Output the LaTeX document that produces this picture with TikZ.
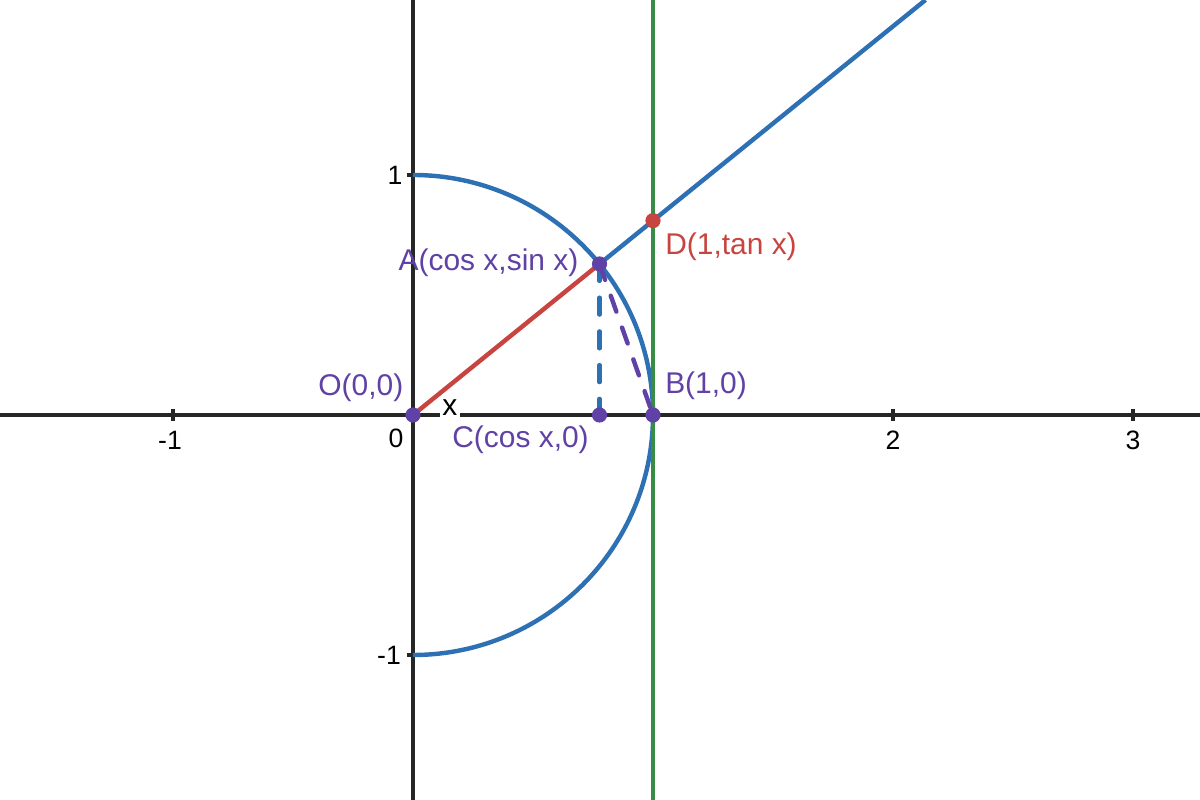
\documentclass[tikz,border=0pt]{standalone}
\usepackage{fontspec}
\setmainfont{Liberation Sans}
\usetikzlibrary{calc}
\definecolor{dblue}{HTML}{2D70B3}
\definecolor{dred}{HTML}{C74440}
\definecolor{dgreen}{HTML}{388C46}
\definecolor{dpurple}{HTML}{6042A6}
\tikzset{
  axisline/.style={line width=1.5pt, black!85},
  tickmark/.style={line width=1.5pt, black!85},
  curve/.style={line width=2.1pt},
  dashseg/.style={line width=2.1pt, line cap=round, dash pattern=on 8pt off 8pt},
  ticklabel/.style={inner sep=0pt, font=\fontsize{12.6}{15}\selectfont, black},
  ptlabel/.style={inner sep=0pt, font=\fontsize{14.2}{17}\selectfont},
  dot/.style={circle, inner sep=0pt, minimum size=7.2pt},
}
\begin{document}
\begin{tikzpicture}[x=4cm,y=4cm]
\useasboundingbox (-1.72083,-1.60417) rectangle (3.27917,1.72917);
\fill[white] (-1.72083,-1.60417) rectangle (3.27917,1.72917);
% points
\coordinate (O) at (0,0);
\coordinate (A) at ({cos(39)},{sin(39)});
\coordinate (B) at (1,0);
\coordinate (C) at ({cos(39)},0);
\coordinate (D) at (1,{tan(39)});
\coordinate (E) at ({1.72917/tan(39)},1.72917);
\coordinate (xl) at (-1.72083,0);
\coordinate (xr) at (3.27917,0);
\coordinate (yb) at (0,-1.60417);
\coordinate (yt) at (0,1.72917);
\coordinate (G1) at (1,-1.60417);
\coordinate (G2) at (1,1.72917);
% axes
\draw[axisline] (xl) -- (xr);
\draw[axisline] (yb) -- (yt);
\foreach \t in {-1,1,2,3} \draw[tickmark] (\t,-0.025) -- (\t,0.025);
\foreach \t in {-1,1} \draw[tickmark] (-0.025,\t) -- (0,\t);
\node[ticklabel] (tm1) at (-1.0125,-0.104) {-1};
\node[ticklabel] (t2) at (2,-0.104) {2};
\node[ticklabel] (t3) at (3,-0.104) {3};
\node[ticklabel] (t0) at (-0.071,-0.096) {0};
\node[ticklabel] (ty1) at (-0.075,1) {1};
\node[ticklabel] (tym1) at (-0.1,-1) {-1};
% semicircle
\draw[curve, dblue] (0,1) arc[start angle=90, end angle=-90, radius=1];
% green line x=1
\draw[curve, dgreen] (G1) -- (G2);
% blue ray
\draw[curve, dblue] (A) -- (E);
% red segment
\draw[curve, dred] (O) -- (A);
% dashed
\draw[dashseg, dblue] (A) -- (C);
\draw[dashseg, dpurple] (A) -- (B);
% angle label
\node[ticklabel, fill=white, inner sep=1pt, font=\fontsize{14.2}{17}\selectfont] (xlab) at (0.154,0.029) {x};
% dots
\node[dot, fill=dpurple] (Op) at (O) {};
\node[dot, fill=dpurple] (Ap) at (A) {};
\node[dot, fill=dpurple] (Bp) at (B) {};
\node[dot, fill=dpurple] (Cp) at (C) {};
\node[dot, fill=dred] (Dp) at (D) {};
% labels
\node[ptlabel, text=dpurple] (Ol) at (-0.2175,0.1125) {O(0,0)};
\node[ptlabel, text=dpurple] (Al) at (0.3146,0.633) {A(cos x,sin x)};
\node[ptlabel, text=dred] (Dl) at (1.325,0.7) {D(1,tan x)};
\node[ptlabel, text=dpurple] (Bl) at (1.221,0.121) {B(1,0)};
\node[ptlabel, text=dpurple] (Cl) at (0.448,-0.104) {C(cos x,0)};
\end{tikzpicture}
\end{document}
